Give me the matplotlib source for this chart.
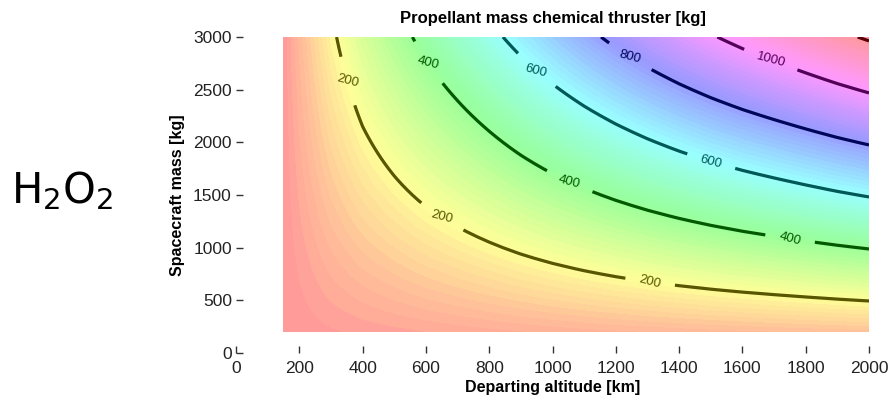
import numpy as np
import matplotlib.pyplot as plt
from matplotlib.colors import ListedColormap

# departing altitude [km] and propellant / spacecraft mass ratio
altitude = [150, 200, 300, 400, 500, 600, 700, 800, 900, 1000,
            1100, 1200, 1300, 1400, 1500, 1600, 1700, 1800, 1900, 2000]
mass_ratio = [0.000, 0.021, 0.061, 0.093, 0.119, 0.144, 0.167, 0.190, 0.213, 0.235,
              0.256, 0.276, 0.295, 0.313, 0.330, 0.346, 0.361, 0.376, 0.391, 0.405]
spacecraft_mass = np.linspace(200, 3000, 57)

line_levels = [200, 400, 600, 800, 1000, 1200]
label_spots = [(344, 2574), (645, 1263), (1308, 665),
               (597, 2735), (1046, 1576), (1750, 1073),
               (945, 2669), (1498, 1785),
               (1239, 2783),
               (1687, 2764)]

H, M = np.meshgrid(altitude, spacecraft_mass)
prop = M * np.array(mass_ratio)[None, :]

plt.rcParams['font.family'] = ['Liberation Sans', 'DejaVu Sans']

base = plt.cm.hsv(np.linspace(0, 1, 256))
pastel = ListedColormap(base[:, :3] * 0.4 + 0.6)

fig = plt.figure(figsize=(8.88, 4.05), dpi=100)
ax = fig.add_axes([0.2658, 0.1284, 0.7128, 0.7802])

ax.contourf(H, M, prop, levels=np.linspace(0, 1200, 81), cmap=pastel, vmin=0, vmax=1200, extend='both')
dark = [tuple(c * 0.35 for c in plt.cm.hsv(lv / 1200)[:3]) for lv in line_levels]
cs = ax.contour(H, M, prop, levels=line_levels, colors=dark, linewidths=2.3)
labels = ax.clabel(cs, levels=line_levels[:5], manual=label_spots, fmt='%d', fontsize=9.5,
                   inline=True, inline_spacing=16)
for t in labels:
    t.set_rotation(-15)

ax.set_xlim(0, 2000)
ax.set_ylim(0, 3000)
ax.set_xticks(range(0, 2001, 200))
ax.set_yticks(range(0, 3001, 500))
for s in ax.spines.values():
    s.set_visible(False)
ax.tick_params(direction='in', length=5, width=1, color='#333333', labelsize=12.5, labelcolor='#222222')
ax.tick_params(axis='x', pad=6)
ax.tick_params(axis='y', pad=3)

ax.set_title('Propellant mass chemical thruster [kg]', fontsize=12, fontweight='bold', pad=10)
ax.set_xlabel('Departing altitude [km]', fontsize=11.5, fontweight='bold', labelpad=3)
ax.set_ylabel('Spacecraft mass [kg]', fontsize=11.5, fontweight='bold', labelpad=6)

fig.text(0.07, 0.53, r'H$_2$O$_2$', fontsize=30, family='DejaVu Sans', ha='center', va='center')

fig.savefig('out.png', dpi=100)
